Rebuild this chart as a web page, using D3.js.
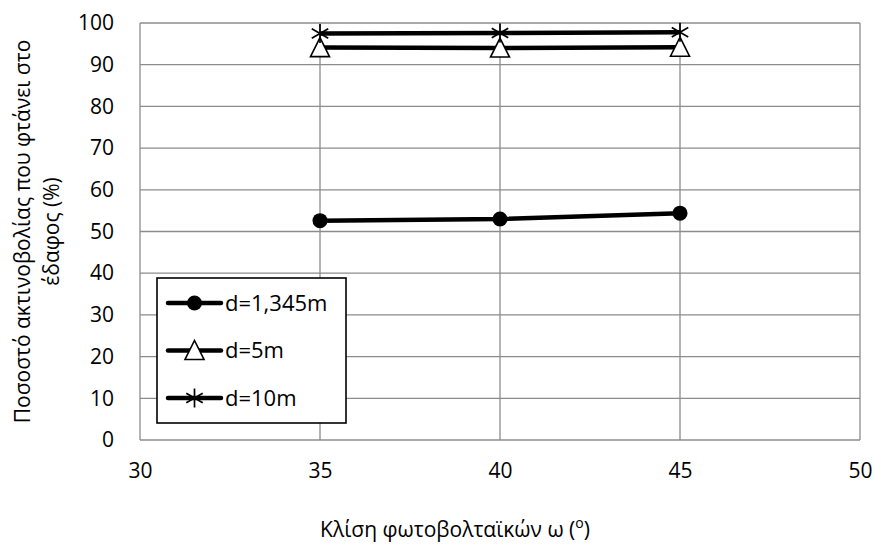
<!DOCTYPE html>
<html lang="el">
<head>
<meta charset="UTF-8">
<script src="https://cdn.jsdelivr.net/npm/d3@7"></script>
<style>
    body { margin: 0; background: #fff; }
    svg text { font-family: "Open Sans", "Noto Sans", sans-serif; fill: #000; }
</style>
</head>
<body>
<div id="chart"></div>
<script>
    // data
    const angles = [35, 40, 45];
    const seriesNames = ["d=1,345m", "d=5m", "d=10m"];
    const seriesMarkers = ["circle", "triangle", "star"];
    const valsD1345 = [52.6, 53.0, 54.4];
    const valsD5 = [94.1, 94.0, 94.2];
    const valsD10 = [97.5, 97.6, 97.8];
    const xTicks = [30, 35, 40, 45, 50];
    const yTicks = [0, 10, 20, 30, 40, 50, 60, 70, 80, 90, 100];

    const series = [
        { name: seriesNames[0], marker: seriesMarkers[0], values: valsD1345 },
        { name: seriesNames[1], marker: seriesMarkers[1], values: valsD5 },
        { name: seriesNames[2], marker: seriesMarkers[2], values: valsD10 }
    ];

    const W = 875, H = 555;
    const margin = { top: 23, right: 15, bottom: 115, left: 140 };
    const fs = "21px";

    const svg = d3.select("#chart").append("svg")
        .attr("width", W)
        .attr("height", H);

    const x = d3.scaleLinear().domain([30, 50]).range([margin.left, W - margin.right]);
    const y = d3.scaleLinear().domain([0, 100]).range([H - margin.bottom, margin.top]);

    // gridlines
    const grid = svg.append("g");
    grid.selectAll(".hg").data(yTicks).enter().append("line")
        .attr("x1", x(30)).attr("x2", x(50))
        .attr("y1", d => y(d)).attr("y2", d => y(d))
        .attr("stroke", "#8c8c8c").attr("stroke-width", 1.3);
    grid.selectAll(".vg").data(xTicks).enter().append("line")
        .attr("x1", d => x(d)).attr("x2", d => x(d))
        .attr("y1", y(0)).attr("y2", y(100))
        .attr("stroke", "#8c8c8c").attr("stroke-width", 1.3);

    // tick labels
    const yAxis = d3.axisLeft(y).tickValues(yTicks).tickSize(0).tickPadding(26);
    svg.append("g").attr("transform", `translate(${x(30)},0)`).call(yAxis)
        .call(g => g.select(".domain").remove())
        .selectAll("text").style("font-size", fs);

    const xAxis = d3.axisBottom(x).tickValues(xTicks).tickSize(0).tickPadding(23);
    svg.append("g").attr("transform", `translate(0,${y(0)})`).call(xAxis)
        .call(g => g.select(".domain").remove())
        .selectAll("text").style("font-size", fs);

    // axis titles
    const xt = svg.append("text")
        .attr("x", 455).attr("y", 537)
        .attr("text-anchor", "middle").style("font-size", fs)
        .text("Κλίση φωτοβολταϊκών ω (");
    xt.append("tspan").attr("baseline-shift", "super").style("font-size", "14px").text("o");
    xt.append("tspan").text(")");

    const yt = svg.append("text")
        .attr("transform", `translate(0,${(y(0) + y(100)) / 2}) rotate(-90)`)
        .attr("text-anchor", "middle").style("font-size", fs);
    yt.append("tspan").attr("x", 0).attr("y", 30).text("Ποσοστό ακτινοβολίας που φτάνει στο");
    yt.append("tspan").attr("x", 0).attr("y", 59).text("έδαφος (%)");

    // marker drawing
    function drawMarker(g, type, cx, cy) {
        if (type === "circle") {
            g.append("circle").attr("cx", cx).attr("cy", cy).attr("r", 7.5).attr("fill", "#000");
        } else if (type === "triangle") {
            g.append("path")
                .attr("d", `M${cx},${cy - 10}L${cx + 9.5},${cy + 9}L${cx - 9.5},${cy + 9}Z`)
                .attr("fill", "#fff").attr("stroke", "#000").attr("stroke-width", 1.6);
        } else {
            const r = 9.5;
            let p = `M${cx},${cy - r}L${cx},${cy + r}`;
            [30, 150].forEach(a => {
                const dx = r * Math.cos(a * Math.PI / 180), dy = r * Math.sin(a * Math.PI / 180);
                p += `M${cx - dx},${cy - dy}L${cx + dx},${cy + dy}`;
            });
            g.append("path").attr("d", p).attr("stroke", "#000").attr("stroke-width", 1.7).attr("fill", "none");
        }
    }

    const line = d3.line().x((d, i) => x(angles[i])).y(d => y(d));

    series.forEach(s => {
        const g = svg.append("g");
        g.append("path").datum(s.values)
            .attr("d", line)
            .attr("fill", "none").attr("stroke", "#000").attr("stroke-width", 4.5)
            .attr("stroke-linejoin", "round");
        s.values.forEach((v, i) => drawMarker(g, s.marker, x(angles[i]), y(v)));
    });

    // legend
    const lg = svg.append("g");
    lg.append("rect").attr("x", 157).attr("y", 278).attr("width", 189).attr("height", 145)
        .attr("fill", "#fff").attr("stroke", "#000").attr("stroke-width", 1.6);
    series.forEach((s, i) => {
        const ly = 303 + i * 47.5;
        lg.append("line").attr("x1", 168).attr("x2", 221).attr("y1", ly).attr("y2", ly)
            .attr("stroke", "#000").attr("stroke-width", 4.5).attr("stroke-linecap", "round");
        drawMarker(lg, s.marker, 194.5, ly);
        lg.append("text").attr("x", 225).attr("y", ly).attr("dy", "0.35em")
            .style("font-size", "22px").text(s.name);
    });
</script>
</body>
</html>
